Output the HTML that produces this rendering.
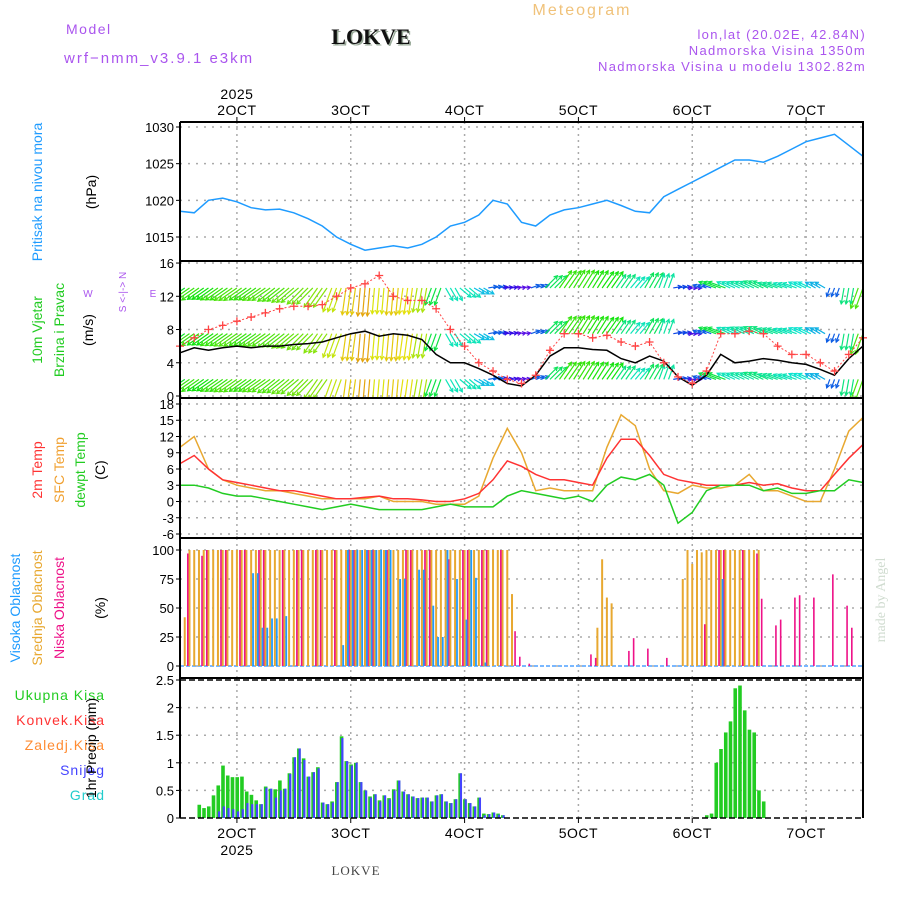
<!DOCTYPE html>
<html><head><meta charset="utf-8"><style>
body{margin:0;background:#fff}
svg{display:block;font-family:"Liberation Sans",sans-serif}
</style></head><body>
<svg id="chart" width="900" height="900" viewBox="0 0 900 900" xmlns="http://www.w3.org/2000/svg">
<defs><clipPath id="windclip"><rect x="180" y="262" width="683" height="135"/></clipPath></defs>
<rect width="900" height="900" fill="#fff"/>
<g id="header">
<text x="66" y="34" fill="#aa55ee" font-size="14" letter-spacing="1.5">Model</text>
<text x="64" y="63" fill="#aa55ee" font-size="15" letter-spacing="2">wrf−nmm_v3.9.1 e3km</text>
<text x="371" y="44" text-anchor="middle" font-family="Liberation Serif,serif" font-weight="bold" font-size="22" fill="#9a9" dx="1.5" dy="1.5">LOKVE</text>
<text x="371" y="44" text-anchor="middle" font-family="Liberation Serif,serif" font-weight="bold" font-size="22" fill="#111">LOKVE</text>
<text x="582" y="15" text-anchor="middle" fill="#f0c27a" font-size="16" letter-spacing="2">Meteogram</text>
<text x="866" y="39" text-anchor="end" fill="#aa55ee" font-size="13" letter-spacing="1.3">lon,lat (20.02E, 42.84N)</text>
<text x="866" y="55" text-anchor="end" fill="#aa55ee" font-size="13" letter-spacing="1.3">Nadmorska Visina 1350m</text>
<text x="866" y="71" text-anchor="end" fill="#aa55ee" font-size="13" letter-spacing="1.3">Nadmorska Visina u modelu 1302.82m</text>
<text transform="translate(885,600) rotate(-90)" text-anchor="middle" font-family="Liberation Serif,serif" font-size="14" fill="#d0dcd0">made by Angel</text>
<text x="356" y="875" text-anchor="middle" font-family="Liberation Serif,serif" font-size="13" fill="#444" letter-spacing="1">LOKVE</text>
</g>
<g id="labels">
<text transform="translate(42,192) rotate(-90)" text-anchor="middle" fill="#1e9bff" font-size="14">Pritisak na nivou mora</text>
<text transform="translate(96,192) rotate(-90)" text-anchor="middle" fill="#000" font-size="14">(hPa)</text>
<text transform="translate(42,330) rotate(-90)" text-anchor="middle" fill="#22cc22" font-size="14">10m Vjetar</text>
<text transform="translate(64,330) rotate(-90)" text-anchor="middle" fill="#22cc22" font-size="14">Brzina i Pravac</text>
<text transform="translate(93,330) rotate(-90)" text-anchor="middle" fill="#000" font-size="14">(m/s)</text>
<text transform="translate(126,292) rotate(-90)" text-anchor="middle" fill="#aa55ee" font-size="10">S &lt;-|-&gt; N</text>
<text x="88" y="297" text-anchor="middle" fill="#aa55ee" font-size="10">W</text>
<text x="153" y="297" text-anchor="middle" fill="#aa55ee" font-size="10">E</text>
<text transform="translate(42,470) rotate(-90)" text-anchor="middle" fill="#ff3333" font-size="14">2m Temp</text>
<text transform="translate(64,470) rotate(-90)" text-anchor="middle" fill="#f0a030" font-size="14">SFC Temp</text>
<text transform="translate(85,470) rotate(-90)" text-anchor="middle" fill="#22cc22" font-size="14">dewpt Temp</text>
<text transform="translate(105,470) rotate(-90)" text-anchor="middle" fill="#000" font-size="14">(C)</text>
<text transform="translate(20,608) rotate(-90)" text-anchor="middle" fill="#1e9bff" font-size="14">Visoka Oblacnost</text>
<text transform="translate(42,608) rotate(-90)" text-anchor="middle" fill="#e8a830" font-size="14">Srednja Oblacnost</text>
<text transform="translate(64,608) rotate(-90)" text-anchor="middle" fill="#ee1188" font-size="14">Niska Oblacnost</text>
<text transform="translate(105,608) rotate(-90)" text-anchor="middle" fill="#000" font-size="14">(%)</text>
<text x="105" y="700" text-anchor="end" fill="#22cc22" font-size="14" letter-spacing="1">Ukupna Kisa</text>
<text x="105" y="725" text-anchor="end" fill="#ff3333" font-size="14" letter-spacing="1">Konvek.Kisa</text>
<text x="105" y="750" text-anchor="end" fill="#ff8c33" font-size="14" letter-spacing="1">Zaledj.Kisa</text>
<text x="105" y="775" text-anchor="end" fill="#4444ff" font-size="14" letter-spacing="1">Snijeg</text>
<text x="105" y="800" text-anchor="end" fill="#22cccc" font-size="14" letter-spacing="1">Grad</text>
<text transform="translate(96,748) rotate(-90)" text-anchor="middle" fill="#000" font-size="14">1hr Precip (mm)</text>
</g>
</svg>
<script>
// ---- data (3-hourly, hour 0 = 1 Oct 12Z) ----
const dayLabels=["2OCT","3OCT","4OCT","5OCT","6OCT","7OCT"];
const pressure=[1018.5,1018.3,1020,1020.3,1019.8,1019,1018.7,1018.8,1018.3,1017.5,1016.5,1015,1014,1013.2,1013.5,1013.8,1013.5,1014,1015,1016.5,1017,1018,1020,1019.5,1017,1016.5,1018,1018.7,1019,1019.5,1020,1019.3,1018.5,1018.3,1020.5,1021.5,1022.5,1023.5,1024.5,1025.5,1025.5,1025.2,1026,1027,1028,1028.5,1029,1027.5,1026];
const windSpeed=[5.2,5.8,5.5,5.8,6,5.8,6,6,6.2,6.3,6.5,7,7.5,7.8,7.2,7.5,7.3,6.8,5,4,4,3.3,2.5,1.5,1.2,2.5,4.8,5.8,5.8,5.6,5.5,4.5,4,4.8,4.2,2.3,1.3,2.5,5,4,4.2,4.5,4.3,4,3.8,3.2,2.5,4.5,6];
const windGust=[6,7,8,8.5,9,9.5,10,10.5,10.8,10.8,11,12,13,13.5,14.5,12,11.5,11.5,10.5,8,6,4,3,2,1.5,2.5,5.5,7.5,7.5,7,7.3,6.5,6,6.5,4,2.3,1.5,3,7.5,7.5,7.8,7.5,6,5,5,4,3,5,7];
const windDir=[55,55,55,55,55,55,55,52,50,45,35,20,8,5,5,5,8,10,20,330,310,300,260,260,260,250,225,215,212,212,215,215,220,210,200,260,270,110,110,115,115,115,110,110,115,120,20,10,20];
const temp2m=[7,8.5,6,4,3.5,3,2.5,2,2,1.5,1,0.5,0.5,0.8,1,0.5,0.5,0.3,0,0,0.5,1.5,4,7.5,6.5,5,4,4,3.5,3,8,11.5,11.5,8.5,5,4,3.5,3,3,3,3.5,3,3.3,2.5,2,2,5,8,10.5];
const tempSfc=[10,12,6,4,3,2.5,2,2,1.5,1,0.5,0.5,0.5,0.5,1,0,0,0,-0.5,-0.5,-0.5,1,8,13.5,9,2,2.5,2,2,2,10,16,14,6,2,1.5,3,2.5,2.5,3,5,2,2,1,0,0,6,13,15.5];
const dewpoint=[3,3,2.5,1.5,1,1,0.5,0,-0.5,-1,-1.5,-1,-0.5,-1,-1.5,-1.5,-1.5,-1.5,-1,-0.5,-1,-1,-1,1,2,1.5,1,0.5,1,0,3,4.5,4,5,3,-4,-2,2,3,3,3,2,2.5,1.5,1.5,2,2,4,3.5];
// ---- clouds (hourly hour index / value) ----
const midHours=[1,2,3,4,5,6,7,8,9,10,11,12,13,14,15,16,17,18,19,20,21,22,23,24,25,26,27,28,29,30,31,32,33,34,35,36,37,38,39,40,41,42,43,44,45,46,47,48,49,50,51,52,53,54,55,56,57,58,59,60,61,62,63,64,65,66,67,68,69,70,88,89,90,91,106,107,108,109,110,111,112,113,114,115,116,117,118,119,120,121,122];
const midCloud=[42,100,100,100,100,100,100,100,100,100,100,100,100,100,100,100,100,100,100,100,100,100,100,100,100,100,100,100,100,100,100,100,100,100,100,100,100,100,100,100,100,100,100,100,100,100,100,100,100,100,100,100,100,100,100,100,100,100,100,100,100,100,100,100,100,100,100,100,100,62,33,92,59,54,75,100,88,100,98,100,100,100,100,100,100,100,100,100,100,100,100];
const lowHours=[2,5,6,9,10,13,14,17,18,22,25,26,29,30,33,36,37,40,41,44,48,49,52,53,57,60,61,64,65,68,71,72,74,87,88,95,96,99,103,111,114,115,119,122,123,126,127,130,131,134,138,141,142];
const lowCloud=[97,95,100,100,100,100,100,100,100,100,100,100,100,100,100,100,100,100,100,100,100,100,100,100,92,100,100,100,100,100,30,8,2,10,7,13,24,15,7,36,100,100,100,97,58,35,40,59,61,59,79,52,33];
const highHours=[15,16,17,18,19,20,22,34,35,36,37,38,39,40,41,42,43,44,46,47,50,51,53,54,55,56,58,60,61,62,64,114];
const highCloud=[80,80,33,33,41,41,43,18,100,100,100,100,100,100,100,100,100,100,75,75,83,83,52,25,25,100,75,40,100,76,3,75];
// ---- precipitation (hourly) ----
const precipHours=[4,5,6,7,8,9,10,11,12,13,14,15,16,17,18,19,20,21,22,23,24,25,26,27,28,29,30,31,32,33,34,35,36,37,38,39,40,41,42,43,44,45,46,47,48,49,50,51,52,53,54,55,56,57,58,59,60,61,62,63,64,65,66,67,68,111,112,113,114,115,116,117,118,119,120,121,122,123];
const precipTotal=[0.24,0.18,0.21,0.41,0.59,0.95,0.77,0.74,0.74,0.75,0.48,0.42,0.32,0.25,0.57,0.53,0.52,0.68,0.53,0.81,1.1,1.26,1.08,0.75,0.83,0.92,0.28,0.25,0.3,0.65,1.48,1.03,0.97,1.0,0.65,0.5,0.39,0.43,0.32,0.41,0.36,0.52,0.68,0.48,0.43,0.39,0.36,0.37,0.37,0.3,0.41,0.43,0.3,0.27,0.34,0.81,0.34,0.27,0.21,0.37,0.08,0.07,0.1,0.08,0.05,0.05,0.08,1.0,1.25,1.55,1.75,2.35,2.4,1.95,1.6,1.55,0.5,0.3];
const precipSnow=[0,0,0,0,0.12,0.21,0.18,0.16,0.12,0.16,0.27,0.25,0.25,0.25,0.55,0.53,0.37,0.5,0.53,0.8,1.1,1.26,1.05,0.75,0.83,0.9,0.28,0.25,0.28,0.65,1.45,1.03,0.95,1.0,0.65,0.5,0.37,0.43,0.3,0.41,0.34,0.5,0.68,0.48,0.43,0.39,0.36,0.37,0.37,0.3,0.41,0.43,0.3,0.27,0.34,0.81,0.34,0.27,0.21,0.37,0.05,0.07,0.1,0.06,0.05,0,0,0,0,0,0,0,0,0,0,0,0,0];
const pTicks=[1015,1020,1025,1030];
const wTicks=[0,4,8,12,16];
const tTicks=[-6,-3,0,3,6,9,12,15,18];
const cTicks=[0,25,50,75,100];
const rTicks=[0,0.5,1,1.5,2,2.5];

const NS="http://www.w3.org/2000/svg";
const svg=document.getElementById('chart');
const L=180,R=863;
const X=h=>L+h*(R-L)/144;
const Yp=v=>237-(v-1015)*7.333;
const Yw=v=>396-v*8.31;
const Yt=v=>501.5-v*5.417;
const Yc=v=>666-v*1.16;
const Yr=v=>818-v*55.2;
function el(tag,attrs,parent){const e=document.createElementNS(NS,tag);for(const k in attrs)e.setAttribute(k,attrs[k]);(parent||svg).appendChild(e);return e;}
function txt(s,x,y,attrs,parent){const t=el('text',Object.assign({x:x,y:y,'font-size':13,fill:'#000'},attrs),parent);t.textContent=s;return t;}

const panels=[[122,261,pTicks,Yp,'pressure'],[261,398,wTicks,Yw,'wind'],[398,538,tTicks,Yt,'temperature'],[538,678,cTicks,Yc,'cloud'],[678,818,rTicks,Yr,'precip']];
const grid=el('g',{});


panels.forEach(p=>{
  const [top,bot,ticks,Y,name]=p;
  for(let k=0;k<6;k++){const x=X(12+24*k);
    const l=el('line',{x1:x,x2:x,y1:top,y2:bot,stroke:'#aaa','stroke-width':1.5,'stroke-dasharray':'2,4'},grid);
    
    }
  ticks.forEach(v=>{const y=Y(v);
    if(name!=='precip'||(v>0&&v<2.5)){
      const g=el('line',{x1:L,x2:R,y1:y,y2:y,stroke:'#aaa','stroke-width':1.5,'stroke-dasharray':'2,6'},grid);
      
      }
    el('line',{x1:L-4,x2:L,y1:y,y2:y,stroke:'#000'});
    const t=txt(String(v),L-6,y+5,{'text-anchor':'end'});
    
    
  });
});

// pressure
let d=pressure.map((v,i)=>(i?'L':'M')+X(i*3).toFixed(1)+','+Yp(v).toFixed(1)).join('');
const pl=el('path',{d:d,fill:'none',stroke:'#1e9bff','stroke-width':1.5});



// wind arrows
const wg=el('g',{'clip-path':'url(#windclip)'});


function speedColor(s){const h=Math.max(0,Math.min(280,300-s*33));return 'hsl('+h+',90%,47%)';}
[13,7.5,2].forEach(lev=>{
  const by=Yw(lev);
  for(let h=0;h<=144;h++){
    const i=Math.min(48,Math.round(h/3)); const s=windSpeed[i]; const dir=(windDir[i]+180)*Math.PI/180;
    const len=s*3.6; const x0=X(h); const x1=x0+Math.sin(dir)*len, y1=by-Math.cos(dir)*len;
    const c=speedColor(s);
    el('line',{x1:x0,y1:by,x2:x1,y2:y1,stroke:c,'stroke-width':1.2},wg);
    const a=Math.atan2(y1-by,x1-x0);
    const hx1=x1-4*Math.cos(a-0.5),hy1=y1-4*Math.sin(a-0.5),hx2=x1-4*Math.cos(a+0.5),hy2=y1-4*Math.sin(a+0.5);
    el('polyline',{points:hx1+','+hy1+' '+x1+','+y1+' '+hx2+','+hy2,fill:'none',stroke:c,'stroke-width':1.2},wg);
  }
});
d=windSpeed.map((v,i)=>(i?'L':'M')+X(i*3).toFixed(1)+','+Yw(v).toFixed(1)).join('');
const ws=el('path',{d:d,fill:'none',stroke:'#000','stroke-width':1.5});


d=windGust.map((v,i)=>(i?'L':'M')+X(i*3).toFixed(1)+','+Yw(v).toFixed(1)).join('');
const gl=el('path',{d:d,fill:'none',stroke:'#ff4444','stroke-width':1,'stroke-dasharray':'2,2'});


windGust.forEach((v,i)=>{const x=X(i*3),y=Yw(v);
  const m=el('path',{d:`M${x-4},${y}H${x+4}M${x},${y-4}V${y+4}`,stroke:'#ff4444','stroke-width':1.3});
  
  });

// temperature
[[tempSfc,'#e8a830','sfc-temp-line'],[temp2m,'#ff3333','temp-2m-line'],[dewpoint,'#22cc22','dewpoint-line']].forEach(s=>{
  const dd=s[0].map((v,i)=>(i?'L':'M')+X(i*3).toFixed(1)+','+Yt(v).toFixed(1)).join('');
  const p=el('path',{d:dd,fill:'none',stroke:s[1],'stroke-width':1.5});
  
  
});

// clouds
const cg=el('g',{});


el('line',{x1:L,x2:R,y1:Yc(0),y2:Yc(0),stroke:'#7ab8ff','stroke-width':2,'stroke-dasharray':'4,2'},cg);
midHours.forEach((h,i)=>{const r=el('rect',{x:X(h)-1,y:Yc(midCloud[i]),width:2,height:Yc(0)-Yc(midCloud[i]),fill:'#e8a830'},cg);
  
  });
lowHours.forEach((h,i)=>{const r=el('rect',{x:X(h)-2.5,y:Yc(lowCloud[i]),width:1.6,height:Yc(0)-Yc(lowCloud[i]),fill:'#ee1188'},cg);
  
  });
highHours.forEach((h,i)=>{const r=el('rect',{x:X(h)+1,y:Yc(highCloud[i]),width:1.8,height:Yc(0)-Yc(highCloud[i]),fill:'#1e9bff'},cg);
  
  });

// precip
const rg=el('g',{});


precipHours.forEach((h,i)=>{const x=X(h)-1.5;
  const r=el('rect',{x:x,y:Yr(precipTotal[i]),width:3.6,height:Yr(0)-Yr(precipTotal[i]),fill:'#22cc22'},rg);
  
  
  if(precipSnow[i]>0){const b=el('rect',{x:x+1.5,y:Yr(precipSnow[i]),width:2.2,height:Yr(0)-Yr(precipSnow[i]),fill:'#4444ff'},rg);
    
    }
});
el('line',{x1:L,x2:R,y1:Yr(2.5),y2:Yr(2.5),stroke:'#000','stroke-width':1.5,'stroke-dasharray':'6,3'});
el('line',{x1:L,x2:R,y1:Yr(0),y2:Yr(0),stroke:'#000','stroke-width':1.5,'stroke-dasharray':'6,3'});

// frames
const fr=el('g',{});


[122,261,398,538,678].forEach(y=>el('line',{x1:L,x2:R+1,y1:y,y2:y,stroke:'#000','stroke-width':2},fr));
el('line',{x1:L,x2:L,y1:122,y2:818,stroke:'#000','stroke-width':2},fr);
el('line',{x1:R,x2:R,y1:122,y2:818,stroke:'#000','stroke-width':2},fr);

// time axes
dayLabels.forEach((s,k)=>{const x=X(12+24*k);
  el('line',{x1:x,x2:x,y1:117,y2:122,stroke:'#000'});
  el('line',{x1:x,x2:x,y1:818,y2:823,stroke:'#000'});
  const t=txt(s,x,115,{'text-anchor':'middle','font-size':14,'letter-spacing':0.5});
  
  
  const b=txt(s,x,838,{'text-anchor':'middle','font-size':14,'letter-spacing':0.5});
  
  
});
const y1=txt('2025',X(12),99,{'text-anchor':'middle','font-size':14,'letter-spacing':0.5});


const y2=txt('2025',X(12),855,{'text-anchor':'middle','font-size':14,'letter-spacing':0.5});


</script>
</body></html>
